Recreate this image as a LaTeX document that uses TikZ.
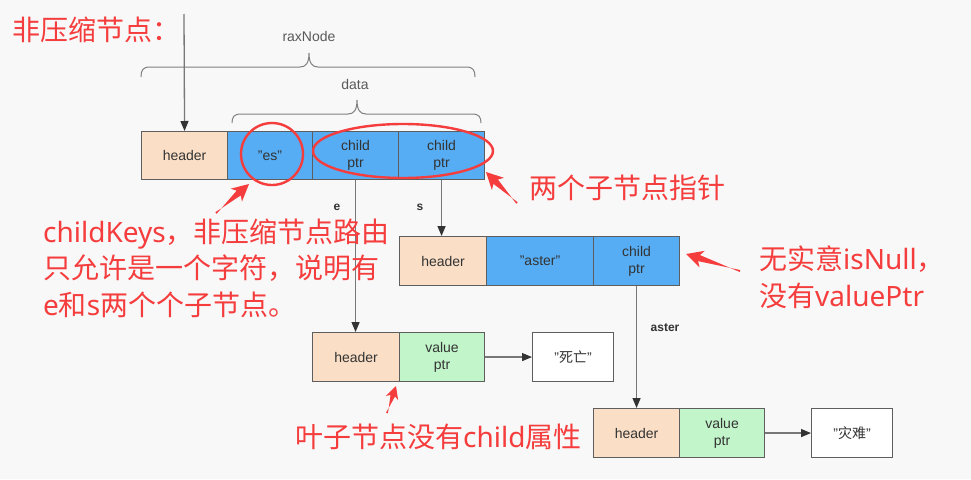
\documentclass[tikz,border=0pt]{standalone}
\usepackage{fontspec}
\setmainfont{Liberation Sans}
\newfontfamily\cjk{Noto Sans CJK SC}
\newfontfamily\latn{Noto Sans}
\usetikzlibrary{arrows.meta,calc}
\definecolor{bg}{HTML}{F8F8F8}
\definecolor{hdr}{HTML}{FADFC6}
\definecolor{blu}{HTML}{56ADF4}
\definecolor{grn}{HTML}{C2F6CA}
\definecolor{edge}{HTML}{5E5E5E}
\definecolor{conn}{HTML}{777777}
\definecolor{txt}{HTML}{333333}
\definecolor{rd}{HTML}{F53D3D}
\tikzset{
  cell/.style={draw=edge, line width=1.1pt, anchor=north west, inner sep=0pt,
    minimum height=48pt, text=txt, font=\fontsize{14}{17}\selectfont, align=center},
  hcell/.style={cell, fill=hdr},
  bcell/.style={cell, fill=blu},
  gcell/.style={cell, fill=grn},
  wcell/.style={cell, fill=white},
  conn/.style={draw=conn, line width=1.3pt, -{Triangle[length=10pt,width=8pt,color=black!80]}},
  edgelbl/.style={text=txt, font=\fontsize{12}{14}\selectfont\bfseries, inner sep=0pt},
  bracelbl/.style={text=black!65, font=\fontsize{14}{17}\selectfont, inner sep=0pt},
  brc/.style={draw=black!50, line width=1pt},
  note/.style={text=rd, font=\cjk\fontsize{28}{36.5}\selectfont, inner sep=0pt, anchor=west, align=left},
  ring/.style={draw=rd, line width=2.4pt}
}
% tapered red arrow: #1 tail, #2 tip, #3 scale
\newcommand\taparrow[3]{%
  \fill[rd] (#2) -- ($(#2)!#3*19pt!27:(#1)$) -- ($(#2)!#3*14pt!13:(#1)$)
    -- ($(#1)!1pt!90:(#2)$) -- ($(#1)!1pt!-90:(#2)$)
    -- ($(#2)!#3*14pt!-13:(#1)$) -- ($(#2)!#3*19pt!-27:(#1)$) -- cycle;}
\begin{document}
\begin{tikzpicture}[x=1pt,y=-1pt]
\fill[bg] (0,0) rectangle (971,479);
\useasboundingbox (0,0) rectangle (971,479);

% title
\node[note] (title) at (12,30) {非压缩节点：};

% braces
\node[bracelbl] (lblrax) at (309,36) {raxNode};
\draw[brc] (141,77) .. controls (141,70) and (143,67) .. (150,67) -- (300,67)
  .. controls (306,67) and (309,63) .. (309,53) .. controls (309,63) and (312,67) .. (318,67)
  -- (466,67) .. controls (473,67) and (475,70) .. (475,77);
\node[bracelbl] (lbldata) at (355,84) {data};
\draw[brc] (232,123) .. controls (232,117) and (234,114) .. (241,114) -- (348,114)
  .. controls (354,114) and (357,110) .. (357,100) .. controls (357,110) and (360,114) .. (366,114)
  -- (472,114) .. controls (479,114) and (481,117) .. (481,123);

% row 1 (root)
\node[hcell, minimum width=86pt] (h1) at (141,131) {header};
\node[bcell, minimum width=85pt] (k1) at (227,131) {"es"};
\node[bcell, minimum width=86pt] (c1a) at (312,131) {child\\ptr};
\node[bcell, minimum width=86pt] (c1b) at (398,131) {child\\ptr};
\coordinate (entry) at (184,14);
\draw[conn] (entry) -- (h1.north);

% row 2 (s node)
\node[hcell, minimum width=87pt, minimum height=49pt] (h2) at (399,236) {header};
\node[bcell, minimum width=107pt, minimum height=49pt] (k2) at (486,236) {"aster"};
\node[bcell, minimum width=86pt, minimum height=49pt] (c2) at (593,236) {child\\ptr};

% leaf e
\node[hcell, minimum width=87pt, minimum height=49pt] (h3) at (312,332) {header};
\node[gcell, minimum width=85pt, minimum height=49pt] (v3) at (399,332) {value\\ptr};
\node[wcell, minimum width=81pt, minimum height=49pt] (s3) at (532,332) {"{\cjk 死亡}"};

% leaf aster
\node[hcell, minimum width=86pt, minimum height=49pt] (h4) at (593,408) {header};
\node[gcell, minimum width=85pt, minimum height=49pt] (v4) at (679,408) {value\\ptr};
\node[wcell, minimum width=81pt, minimum height=49pt] (s4) at (811,408) {"{\cjk 灾难}"};

% connectors
\draw[conn] (c1a.south) -- (c1a.south |- h3.north);
\draw[conn] (c1b.south) -- (c1b.south |- h2.north);
\draw[conn] (c2.south) -- (c2.south |- h4.north);
\draw[conn] (v3.east) -- (s3.west);
\draw[conn] (v4.east) -- (s4.west);
\node[edgelbl] (le) at (337,207) {e};
\node[edgelbl] (ls) at (420,207) {s};
\node[edgelbl] (laster) at (665,328) {aster};

% red marks
\draw[ring] (272,154) circle [radius=31pt];
\draw[ring] (403,151) ellipse [x radius=90pt, y radius=27pt];

\coordinate (a1s) at (216,213); \coordinate (a1t) at (249,184);
\taparrow{a1s}{a1t}{1}
\coordinate (a2s) at (517,203); \coordinate (a2t) at (486,172);
\taparrow{a2s}{a2t}{1}
\coordinate (a3s) at (740,271); \coordinate (a3t) at (686,254);
\taparrow{a3s}{a3t}{1}
\coordinate (a4s) at (387,413); \coordinate (a4t) at (396,386);
\taparrow{a4s}{a4t}{0.75}

\node[note] (n1) at (43,268) {{\latn childKeys}，非压缩节点路由\\只允许是一个字符，说明有\\{\latn e}和{\latn s}两个个子节点。};
\node[note] (n2) at (529,188) {两个子节点指针};
\node[note] (n3) at (759,277) {无实意{\latn isNull}，\\没有{\latn valuePtr}};
\node[note] (n4) at (295,437) {叶子节点没有{\latn child}属性};
\end{tikzpicture}
\end{document}
